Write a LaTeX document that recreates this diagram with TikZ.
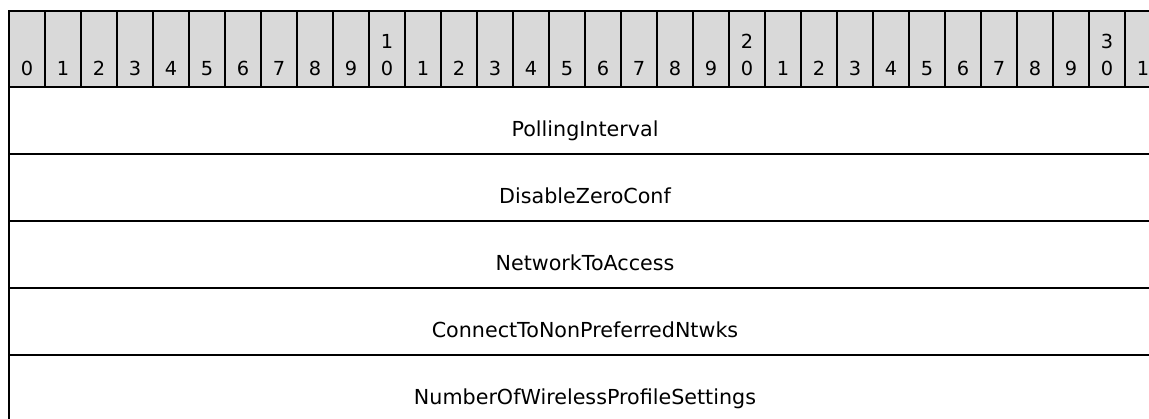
\documentclass[tikz,border=0pt]{standalone}
\usepackage{fontspec}
\setmainfont{DejaVu Sans}
\definecolor{headgray}{RGB}{217,217,217}
\tikzset{
  bitcell/.style={draw=black, line width=1.5pt, fill=headgray},
  bitnum/.style={anchor=base, inner sep=0pt, font=\fontsize{14.5}{16}\selectfont},
  fieldbox/.style={draw=black, line width=1.5pt},
  fieldname/.style={anchor=base, inner sep=0pt, font=\fontsize{15.5}{18}\selectfont},
}
\begin{document}
\begin{tikzpicture}[x=0.75pt,y=0.75pt,yscale=-1]
\useasboundingbox (0,0) rectangle (1149,418);

%Header: bit numbers 0..31
\foreach \i in {0,...,31}{
  \pgfmathtruncatemacro{\unit}{mod(\i,10)}
  \pgfmathtruncatemacro{\tens}{\i/10}
  \draw[bitcell] ({9+36*\i},11) rectangle ({45+36*\i},87);
  \node[bitnum] (b\i) at ({27+36*\i},75) {\unit};
  \ifnum\unit=0 \ifnum\i>0
    \node[bitnum] (t\i) at ({27+36*\i},48) {\tens};
  \fi\fi
}

%Field rows
\draw[fieldbox] (9,87) rectangle (1161,154);
\draw[fieldbox] (9,154) rectangle (1161,221);
\draw[fieldbox] (9,221) rectangle (1161,288);
\draw[fieldbox] (9,288) rectangle (1161,355);
\draw[fieldbox] (9,355) rectangle (1161,422);

% Text Node
\node[fieldname] (polling) at (585,136) {PollingInterval};
% Text Node
\node[fieldname] (disablezc) at (585,203) {DisableZeroConf};
% Text Node
\node[fieldname] (nettoaccess) at (585,270) {NetworkToAccess};
% Text Node
\node[fieldname] (nonpref) at (585,337) {ConnectToNonPreferredNtwks};
% Text Node
\node[fieldname] (numprofiles) at (585,404) {NumberOfWirelessProfileSettings};

\end{tikzpicture}
\end{document}
